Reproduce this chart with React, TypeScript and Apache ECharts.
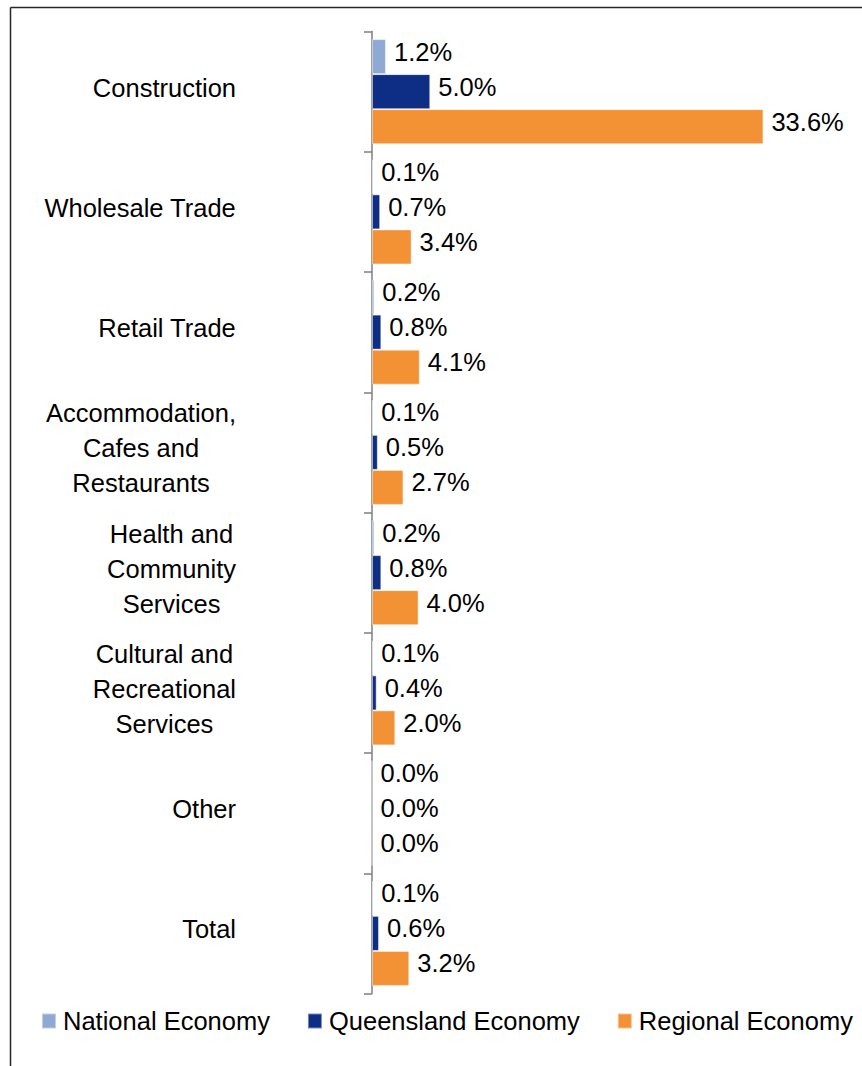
import React, { useEffect, useRef } from "react";
import * as echarts from "echarts";

const categories = [
  "Construction",
  "Wholesale Trade",
  "Retail Trade",
  "Accommodation,\nCafes and\nRestaurants",
  "Health and\nCommunity\nServices",
  "Cultural and\nRecreational\nServices",
  "Other",
  "Total",
];
const seriesNames = ["National Economy", "Queensland Economy", "Regional Economy"];
const nationalValues = [1.2, 0.1, 0.2, 0.1, 0.2, 0.1, 0.0, 0.1];
const queenslandValues = [5.0, 0.7, 0.8, 0.5, 0.8, 0.4, 0.0, 0.6];
const regionalValues = [33.6, 3.4, 4.1, 2.7, 4.0, 2.0, 0.0, 3.2];
const colors = ["#8EA9D4", "#0E2D85", "#F39234"];

const FONT = "'Liberation Sans', Arial, Helvetica, sans-serif";

export default function App() {
  const ref = useRef<HTMLDivElement>(null);
  useEffect(() => {
    document.body.style.margin = "0";
    if (!ref.current) return;
    const chart = echarts.init(ref.current, null, { renderer: "svg" });
    const values = [nationalValues, queenslandValues, regionalValues];
    chart.setOption({
      animation: false,
      backgroundColor: "#ffffff",
      textStyle: { fontFamily: FONT },
      grid: { left: 372, top: 31.5, width: 466, height: 962, containLabel: false },
      xAxis: {
        type: "value",
        min: 0,
        max: 40,
        show: false,
      },
      yAxis: {
        type: "category",
        inverse: true,
        data: categories,
        axisLine: { show: true, lineStyle: { color: "#7F7F7F", width: 1.5 } },
        axisTick: { show: true, inside: false, length: 8, alignWithLabel: false, lineStyle: { color: "#7F7F7F", width: 1.5 } },
        axisLabel: {
          margin: 136,
          align: "right",
          color: "#000000",
          fontSize: 25.5,
          fontFamily: FONT,
          lineHeight: 35,
          padding: [0, 0, 8, 0],
          formatter: (v: string) =>
            v
              .split("\n")
              .map((l) => "{c|" + l + "}")
              .join("\n"),
          rich: {
            c: { align: "center", fontSize: 25.5, lineHeight: 35, color: "#000000", fontFamily: FONT },
          },
        },
        splitLine: { show: false },
      },
      legend: {
        show: true,
        left: 41,
        top: 1008,
        padding: 0,
        itemWidth: 14,
        itemHeight: 15,
        itemGap: 37,
        icon: "rect",
        textStyle: { fontSize: 25.5, color: "#000000", fontFamily: FONT, padding: [0, 0, 0, 2] },
        data: seriesNames,
      },
      series: seriesNames.map((name, i) => ({
        name,
        type: "bar",
        data: values[i],
        barWidth: 35,
        barGap: "0%",
        itemStyle: { color: colors[i], borderColor: "rgba(255,255,255,0.45)", borderWidth: 1 },
        label: {
          show: true,
          position: "right",
          distance: 8,
          offset: [0, -5],
          color: "#000000",
          fontSize: 25.5,
          fontFamily: FONT,
          formatter: (p: any) => Number(p.value).toFixed(1) + "%",
        },
      })),
      graphic: [
        { type: "line", shape: { x1: 10.5, y1: 7.5, x2: 870, y2: 7.5 }, style: { stroke: "#262626", lineWidth: 1.5 } },
        { type: "line", shape: { x1: 10.5, y1: 7.5, x2: 10.5, y2: 1070 }, style: { stroke: "#262626", lineWidth: 1.5 } },
      ],
    });
    return () => chart.dispose();
  }, []);
  return <div ref={ref} style={{ width: 862, height: 1066 }} />;
}
